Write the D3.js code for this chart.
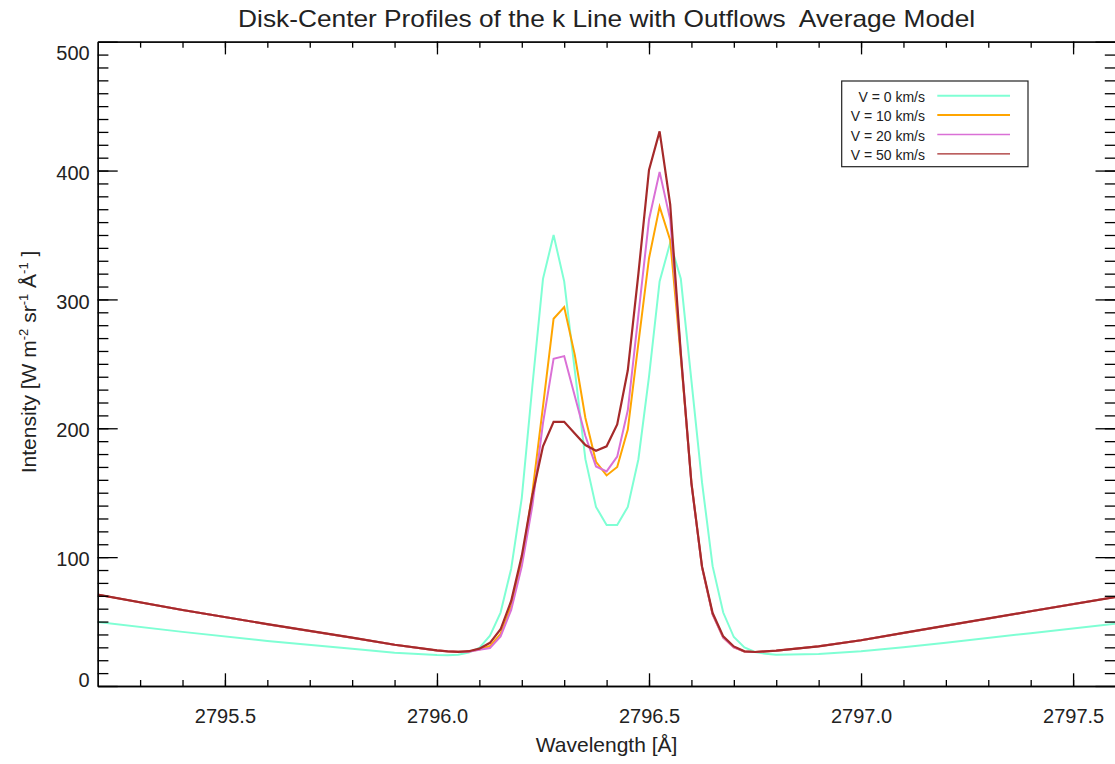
<!DOCTYPE html>
<html>
<head>
<meta charset="utf-8">
<script src="https://cdnjs.cloudflare.com/ajax/libs/d3/7.8.5/d3.min.js"></script>
<style>
  body { margin: 0; background: #fff; }
  text { font-family: "Liberation Sans", Arial, Helvetica, sans-serif; fill: #222; }
</style>
</head>
<body>
<div id="chart"></div>
<script>
// Wavelength grid [Angstrom]
var wavelength = [2795.2, 2795.4, 2795.6, 2795.8, 2795.9, 2796.0, 2796.025, 2796.05, 2796.075,
  2796.1, 2796.125, 2796.15, 2796.175, 2796.2, 2796.225, 2796.25, 2796.275, 2796.3, 2796.325,
  2796.35, 2796.375, 2796.4, 2796.425, 2796.45, 2796.475, 2796.5, 2796.525, 2796.55, 2796.575,
  2796.6, 2796.625, 2796.65, 2796.675, 2796.7, 2796.725, 2796.75, 2796.775, 2796.8, 2796.9,
  2797.0, 2797.1, 2797.2, 2797.4, 2797.6];

// Intensity for each outflow speed
var v0 = [49.7, 42.0, 35.0, 29.0, 25.8, 24.0, 23.8, 24.3, 26.0, 29.5, 39, 57, 91, 146, 233, 316,
  350, 314, 245, 176, 139, 125, 125, 139, 176, 240, 314, 344, 316, 237, 158, 93, 57, 38, 30,
  26.4, 25, 24.3, 24.8, 27, 30, 33.5, 41, 48.3];
var v10 = [70.9, 59, 48, 37.5, 32, 27.6, 26.9, 26.5, 26.8, 28.3, 31, 40.5, 62, 96, 150, 217,
  285, 294, 257, 208, 174, 163.4, 170, 199, 266, 332, 372, 346, 255, 158, 92, 55.5, 37.5, 30,
  26.8, 26.3, 26.9, 27.4, 30.8, 35.5, 41.2, 46.8, 58, 69.1];
var v20 = [70.9, 59, 48, 37.5, 32, 27.6, 26.9, 26.5, 26.6, 28.2, 29.5, 38.5, 59, 92.8, 140, 204,
  254, 256, 225, 194, 170.4, 166.5, 178, 214, 288, 362, 399, 362, 258, 157, 92, 55.5, 37.5, 30,
  26.8, 26.3, 26.9, 27.4, 30.8, 35.5, 41.2, 46.8, 58, 69.1];
var v50 = [70.9, 59, 48, 37.5, 32, 27.6, 26.9, 26.5, 27, 29, 33.5, 44, 66, 101, 148, 186,
  205, 205, 196, 187, 182.6, 186, 203, 245, 320, 400.5, 430.4, 373.5, 258, 157.5, 92.8, 56.6,
  38.5, 30.7, 26.9, 26.4, 26.9, 27.4, 30.8, 35.5, 41.2, 46.8, 58, 69.1];

var seriesNames = ["V = 0 km/s", "V = 10 km/s", "V = 20 km/s", "V = 50 km/s"];
var seriesColors = ["#7fffd4", "#ffa500", "#da70d6", "#a52a2a"];
var xMajorTicks = [2795.5, 2796.0, 2796.5, 2797.0, 2797.5];
var yMajorTicks = [0, 100, 200, 300, 400, 500];

var svgWidth = 1115;
var svgHeight = 764;

var margin = {
  top: 41.7,
  right: -0.5,
  bottom: 78,
  left: 97.7
};

var width = svgWidth - margin.left - margin.right;
var height = svgHeight - margin.top - margin.bottom;

var svg = d3
  .select("#chart")
  .append("svg")
  .attr("width", svgWidth)
  .attr("height", svgHeight);

var chartGroup = svg
  .append("g")
  .attr("transform", `translate(${margin.left}, ${margin.top})`);

var xScale = d3.scaleLinear().domain([2795.2, 2797.6]).range([0, width]);
var yScale = d3.scaleLinear().domain([0, 500]).range([height, 0]);

var xMinorTicks = d3.range(2795.3, 2797.61, 0.1);
var yMinorTicks = d3.range(10, 500, 10);

// Lines
var series = [v0, v10, v20, v50];
var line = d3.line()
  .x((d, i) => xScale(wavelength[i]))
  .y(d => yScale(d));

chartGroup.append("defs").append("clipPath")
  .attr("id", "plotClip")
  .append("rect")
  .attr("width", width)
  .attr("height", height);

chartGroup.append("g")
  .attr("clip-path", "url(#plotClip)")
  .selectAll("path")
  .data(series)
  .enter()
  .append("path")
  .attr("d", d => line(d))
  .attr("fill", "none")
  .attr("stroke", (d, i) => seriesColors[i])
  .attr("stroke-width", (d, i) => i === 3 ? 2.2 : 2)
  .attr("stroke-linejoin", "miter");

// Axes: major + minor ticks on all four sides
function styleAxis(g) {
  g.attr("color", "#000")
    .attr("font-size", 20)
    .attr("font-family", null);
  g.selectAll("path, line").attr("stroke-width", 1.3);
}

chartGroup.append("g")
  .attr("transform", `translate(0, ${height})`)
  .call(d3.axisBottom(xScale).tickValues(xMinorTicks).tickSizeInner(-6).tickSizeOuter(0).tickFormat(""))
  .call(styleAxis);

var bottomAxis = chartGroup.append("g")
  .attr("transform", `translate(0, ${height})`)
  .call(d3.axisBottom(xScale).tickValues(xMajorTicks).tickSizeInner(-12.7).tickSizeOuter(0)
    .tickPadding(22.5).tickFormat(d3.format(".1f")))
  .call(styleAxis);

chartGroup.append("g")
  .call(d3.axisTop(xScale).tickValues(xMinorTicks).tickSizeInner(-6).tickSizeOuter(0).tickFormat(""))
  .call(styleAxis);
chartGroup.append("g")
  .call(d3.axisTop(xScale).tickValues(xMajorTicks).tickSizeInner(-12.7).tickSizeOuter(0).tickFormat(""))
  .call(styleAxis);

chartGroup.append("g")
  .call(d3.axisLeft(yScale).tickValues(yMinorTicks).tickSizeInner(-10.7).tickSizeOuter(0).tickFormat(""))
  .call(styleAxis);

var leftAxis = chartGroup.append("g")
  .call(d3.axisLeft(yScale).tickValues(yMajorTicks).tickSizeInner(-20).tickSizeOuter(0).tickPadding(8))
  .call(styleAxis);

// keep end labels inside the axis span, like the original
leftAxis.selectAll("text")
  .attr("y", d => d === 500 ? 11.2 : (d === 0 ? -6.4 : 2.3));

chartGroup.append("g")
  .attr("transform", `translate(${width}, 0)`)
  .call(d3.axisRight(yScale).tickValues(yMinorTicks).tickSizeInner(-10.7).tickSizeOuter(0).tickFormat(""))
  .call(styleAxis);
chartGroup.append("g")
  .attr("transform", `translate(${width}, 0)`)
  .call(d3.axisRight(yScale).tickValues(yMajorTicks).tickSizeInner(-20).tickSizeOuter(0).tickFormat(""))
  .call(styleAxis);

// Title (double space kept with a no-break space)
svg.append("text")
  .attr("x", margin.left + width / 2)
  .attr("y", 27)
  .attr("text-anchor", "middle")
  .attr("font-size", 24)
  .attr("textLength", 737)
  .attr("lengthAdjust", "spacingAndGlyphs")
  .text("Disk-Center Profiles of the k Line with Outflows\u00a0 Average Model");

// X label
svg.append("text")
  .attr("x", margin.left + width / 2)
  .attr("y", 752)
  .attr("text-anchor", "middle")
  .attr("font-size", 21)
  .text("Wavelength [Å]");

// Y label with superscripts
var yLabel = svg.append("text")
  .attr("transform", "translate(36, 362) rotate(-90)")
  .attr("text-anchor", "middle")
  .attr("font-size", 21);
yLabel.append("tspan").text("Intensity [W m");
yLabel.append("tspan").attr("font-size", 13).attr("dy", "-0.6em").text("-2");
yLabel.append("tspan").attr("dy", "0.37em").text(" sr");
yLabel.append("tspan").attr("font-size", 13).attr("dy", "-0.6em").text("-1");
yLabel.append("tspan").attr("dy", "0.37em").text(" Å");
yLabel.append("tspan").attr("font-size", 13).attr("dy", "-0.6em").text("-1");
yLabel.append("tspan").attr("dy", "0.37em").text(" ]");

// Legend
var legend = svg.append("g");
legend.append("rect")
  .attr("x", 841.7)
  .attr("y", 81)
  .attr("width", 186.3)
  .attr("height", 85.7)
  .attr("fill", "#fff")
  .attr("stroke", "#222")
  .attr("stroke-width", 1.2);

var legendRows = legend.selectAll("g.row")
  .data(seriesNames)
  .enter()
  .append("g")
  .attr("class", "row")
  .attr("transform", (d, i) => `translate(0, ${101.7 + i * 19.4})`);

legendRows.append("text")
  .attr("x", 925)
  .attr("text-anchor", "end")
  .attr("font-size", 14)
  .text(d => d);

legendRows.append("line")
  .attr("x1", 937.3)
  .attr("x2", 1010)
  .attr("y1", -6)
  .attr("y2", -6)
  .attr("stroke", (d, i) => seriesColors[i])
  .attr("stroke-width", (d, i) => i < 2 ? 2 : 1.3);
</script>
</body>
</html>
